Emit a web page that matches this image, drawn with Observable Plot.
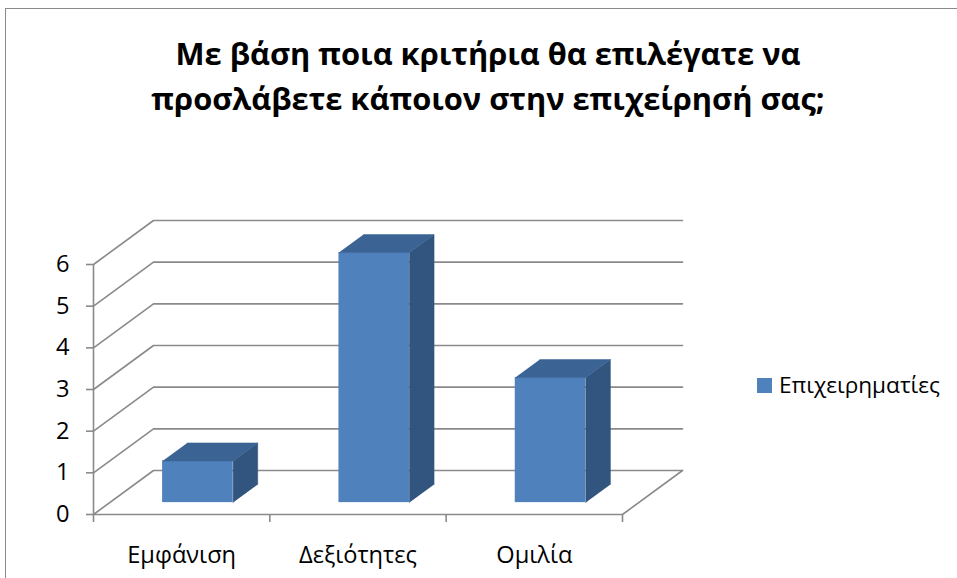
<!DOCTYPE html>
<html>
<head>
<meta charset="utf-8">
<script src="https://cdn.jsdelivr.net/npm/d3@7"></script>
<script src="https://cdn.jsdelivr.net/npm/@observablehq/plot@0.6"></script>
<style>
  html, body { margin: 0; padding: 0; background: #fff; overflow: hidden; }
  #wrap { position: relative; width: 957px; height: 578px; overflow: hidden; }
  #frame { position: absolute; left: 5px; top: 8px; width: 1100px; height: 800px; border: 1.5px solid #8a8a8a; box-sizing: border-box; }
  #chart { position: absolute; left: 0; top: 0; }
  .title { position: absolute; left: 0; width: 976px; text-align: center; font-family: "Open Sans", sans-serif; font-weight: 700; color: #000; white-space: nowrap; transform-origin: 488px 50%; }
  #legend { position: absolute; left: 757px; top: 0; display: flex; align-items: center; font-family: "Open Sans", sans-serif; color: #000; white-space: nowrap; }
  #legend .sw { width: 15px; height: 15px; margin-right: 7px; flex: none; }
</style>
</head>
<body>
<div id="wrap">
  <div id="frame"></div>
  <div id="chart"></div>
  <div class="title" id="t1"></div>
  <div class="title" id="t2"></div>
  <div id="legend"><div class="sw"></div><span></span></div>
</div>
<script>
// ---- data ----
const titleLines = ["Με βάση ποια κριτήρια θα επιλέγατε να", "προσλάβετε κάποιον στην επιχείρησή σας;"];
const categories = ["Εμφάνιση", "Δεξιότητες", "Ομιλία"];
const values = [1, 6, 3];
const seriesName = "Επιχειρηματίες";
const yTicks = [0, 1, 2, 3, 4, 5, 6];

// ---- style / layout ----
const W = 957, H = 578;
const mL = 93, mR = 335, mT = 264, mB = 64;
const frontColor = "#4f81bd", topColor = "#3b6393", sideColor = "#32557f";
const grid = "#8a8a8a";
const FONT = '"Open Sans", sans-serif';

const ctx = document.createElement("canvas").getContext("2d");
function measure(text, weight, size) {
  ctx.font = `${weight} ${size}px "Open Sans"`;
  return ctx.measureText(text).width;
}
function fit(text, weight, target) {
  return 100 * target / measure(text, weight, 100);
}
const titleFS = 30;
const titleScale = 625 / measure(titleLines[0], 700, titleFS);
const catFS = fit(categories[1], 400, 118);
const legFS = fit(seriesName, 400, 161);

const nCat = categories.length;
const yMax = yTicks[yTicks.length - 1];
const xUnit = (W - mL - mR) / nCat;
const yUnit = (H - mT - mB) / yMax;
// depth of floor in data units (60px right, 44px up)
const kx = 60 / xUnit, ky = 44 / yUnit;
const z0 = 0.27, z1 = 0.68, bL = 0.3, bR = 0.7;

const wall = yTicks.flatMap(t => [
  {x: 0, y: t, k: t}, {x: kx, y: t + ky, k: t}, {x: nCat + kx, y: t + ky, k: t}
]);
const floor = [{x: 0, y: 0}, {x: nCat, y: 0}, {x: nCat + kx, y: ky}];

const bars = values.map((v, i) => ({c: categories[i], v, i}));
const sides = bars.flatMap(({v, i}) => [
  {x: i + bR + z0 * kx, y: z0 * ky, i},
  {x: i + bR + z0 * kx, y: v + z0 * ky, i},
  {x: i + bR + z1 * kx, y: v + z1 * ky, i},
  {x: i + bR + z1 * kx, y: z1 * ky, i}
]);
const tops = bars.flatMap(({v, i}) => [
  {x: i + bL + z0 * kx, y: v + z0 * ky, i},
  {x: i + bR + z0 * kx, y: v + z0 * ky, i},
  {x: i + bR + z1 * kx, y: v + z1 * ky, i},
  {x: i + bL + z1 * kx, y: v + z1 * ky, i}
]);

const chart = Plot.plot({
  width: W, height: H,
  marginLeft: mL, marginRight: mR, marginTop: mT, marginBottom: mB,
  style: {fontFamily: FONT, background: "transparent", overflow: "visible"},
  x: {domain: [0, nCat], axis: null},
  y: {domain: [0, yMax], axis: null},
  marks: [
    Plot.line(wall, {x: "x", y: "y", z: "k", stroke: grid, strokeWidth: 1.6}),
    Plot.line(floor, {x: "x", y: "y", stroke: grid, strokeWidth: 1.6}),
    Plot.ruleX([0], {y1: 0, y2: yMax, stroke: grid, strokeWidth: 1.6}),
    Plot.axisY({ticks: yTicks, tickSize: 7, tickPadding: 17, stroke: grid, strokeWidth: 1.6, fill: "#000", fontSize: catFS, label: null, tickFormat: d3.format("d")}),
    Plot.axisX({ticks: d3.range(nCat + 1), tickSize: 8, stroke: grid, strokeWidth: 1.6, tickFormat: () => "", label: null}),
    Plot.rect(bars, {x1: d => d.i + bL + z0 * kx, x2: d => d.i + bR + z0 * kx, y1: z0 * ky, y2: d => d.v + z0 * ky, fill: frontColor}),
    Plot.line(sides, {x: "x", y: "y", z: "i", fill: sideColor, stroke: sideColor, strokeWidth: 0.5}),
    Plot.line(tops, {x: "x", y: "y", z: "i", fill: topColor, stroke: topColor, strokeWidth: 0.5}),
    Plot.text(bars, {x: d => d.i + 0.5, y: 0, text: "c", dy: 562 - (H - mB) - 0.32 * catFS, fontSize: catFS, fill: "#000"})
  ]
});
document.getElementById("chart").append(chart);

// title
const lh = titleFS * 1.5;
const base = (lh - 1.362 * titleFS) / 2 + 1.069 * titleFS;
[["t1", 65], ["t2", 110]].forEach(([id, bl], j) => {
  const el = document.getElementById(id);
  el.textContent = titleLines[j];
  el.style.fontSize = titleFS + "px";
  el.style.lineHeight = lh + "px";
  el.style.top = (bl - base) + "px";
  el.style.transform = `scaleX(${titleScale})`;
});

// legend
const leg = document.getElementById("legend");
leg.querySelector(".sw").style.background = frontColor;
leg.querySelector("span").textContent = seriesName;
leg.style.fontSize = legFS + "px";
leg.style.lineHeight = "30px";
leg.style.top = (385 - 15) + "px";
</script>
</body>
</html>
